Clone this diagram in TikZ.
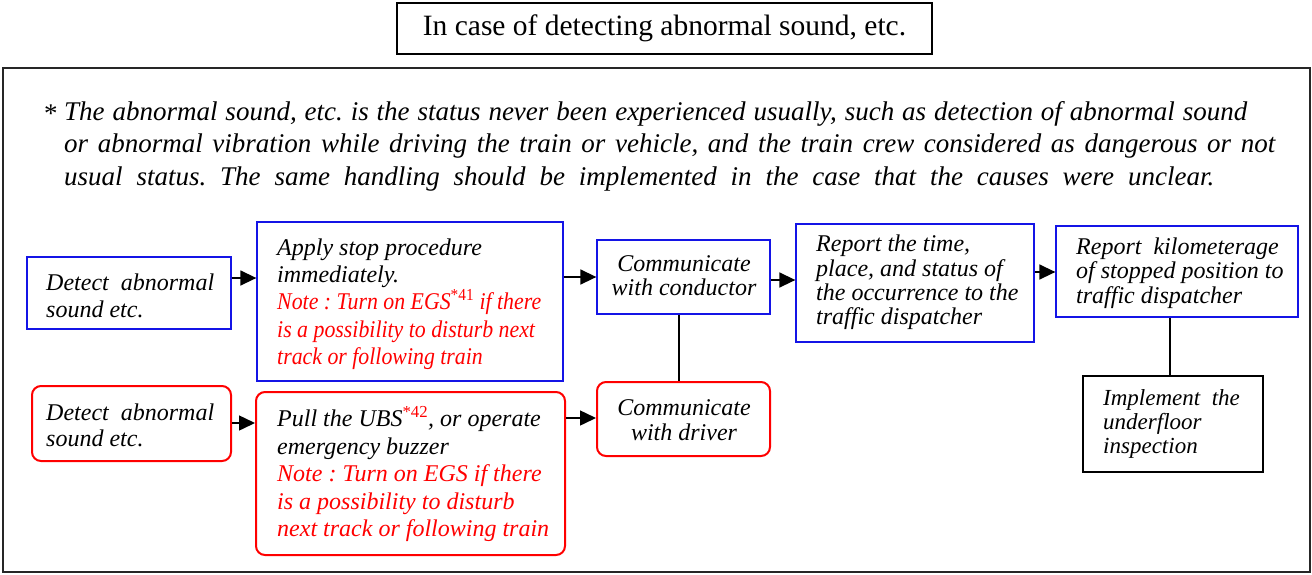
\documentclass[tikz,border=0pt]{standalone}
\usepackage{fontspec}
\setmainfont{Liberation Serif}
\usetikzlibrary{arrows.meta}
\definecolor{bluec}{RGB}{20,20,230}
\definecolor{redc}{RGB}{255,0,0}
\newcommand{\supu}[1]{\textsuperscript{\upshape #1}}
\newcommand{\narrowred}[1]{\textcolor{redc}{\scalebox{0.91}[1]{#1}}}
\frenchspacing
\begin{document}
\begin{tikzpicture}[x=1pt,y=-1pt,
  frame/.style={draw=black!85, line width=1.4pt},
  bluebox/.style={draw=bluec, line width=1.3pt, inner sep=0pt},
  redbox/.style={draw=redc, line width=2pt, rounded corners=9pt, inner sep=0pt},
  blkbox/.style={draw=black, line width=1.3pt, inner sep=0pt},
  txt/.style={inner sep=0pt, anchor=west, align=left, font=\fontsize{24}{#1}\selectfont\itshape},
  ctxt/.style={inner sep=0pt, align=center, font=\fontsize{24}{#1}\selectfont\itshape},
  arr/.style={line width=1.5pt, -{Triangle[length=16pt,width=15pt]}},
  lnk/.style={line width=1.2pt},
]
\useasboundingbox (0,0) rectangle (1312,574);

% title and frame
\node[draw=black, line width=1.8pt, minimum width=535pt, minimum height=51pt, inner sep=0pt,
      font=\fontsize{29.5}{31}\selectfont] (title) at (664.5,28.5) {In case of detecting abnormal sound, etc.};
\node[frame, minimum width=1307pt, minimum height=504pt, inner sep=0pt] (outer) at (656.5,320) {};

% note
\node[inner sep=0pt, anchor=west, font=\fontsize{27}{32.5}\selectfont] (star) at (44,114) {*};
\node[inner sep=0pt, anchor=west, align=left, font=\fontsize{27}{32.5}\selectfont\itshape] (note) at (64,146)
 {\makebox[1183pt][s]{The abnormal sound, etc. is the status never been experienced usually, such as detection of abnormal sound}\\
  \makebox[1211pt][s]{or abnormal vibration while driving the train or vehicle, and the train crew considered as dangerous or not}\\
  \makebox[1150pt][s]{usual status. The same handling should be implemented in the case that the causes were unclear.}};

% boxes (driver row)
\node[bluebox, minimum width=204pt, minimum height=72pt] (A1) at (129,293) {};
\node[bluebox, minimum width=306pt, minimum height=159pt] (A2) at (410,301.5) {};
\node[bluebox, minimum width=173pt, minimum height=74pt] (A3) at (683.5,277) {};
\node[bluebox, minimum width=238pt, minimum height=118pt] (A4) at (915,283) {};
\node[bluebox, minimum width=242pt, minimum height=91pt] (A5) at (1177,271.5) {};
\node[blkbox, minimum width=180pt, minimum height=96pt] (A6) at (1173,424) {};
% boxes (conductor row)
\node[redbox, minimum width=199pt, minimum height=75pt] (B1) at (131.5,423.5) {};
\node[redbox, minimum width=309pt, minimum height=163pt] (B2) at (410.5,473.5) {};
\node[redbox, minimum width=173pt, minimum height=74pt] (B3) at (683.5,419) {};

% texts
\node[txt=27] (A1t) at (46,296) {Detect\ \ abnormal\\sound etc.};
\node[txt=27.3] (A2t) at (277,304) {Apply stop procedure\\immediately.\\
  \narrowred{Note : Turn on EGS\supu{*41} if there}\\
  \narrowred{is a possibility to disturb next}\\
  \narrowred{track or following train}};
\node[ctxt=24] (A3t) at (684,276) {Communicate\\with conductor};
\node[txt=24.3] (A4t) at (816,282.5) {Report the time,\\place, and status of\\the occurrence to the\\traffic dispatcher};
\node[txt=24.5] (A5t) at (1076,273) {Report\ \ kilometerage\\of stopped position to\\traffic dispatcher};
\node[txt=24, font=\fontsize{23}{24}\selectfont\itshape] (A6t) at (1103,424) {Implement\ \ the\\underfloor\\inspection};
\node[txt=26] (B1t) at (46,425) {Detect\ \ abnormal\\sound etc.};
\node[txt=27.5] (B2t) at (277,474) {Pull the UBS\textcolor{redc}{\supu{*42}}, or operate\\emergency buzzer\\
  \textcolor{redc}{Note : Turn on EGS if there}\\
  \textcolor{redc}{is a possibility to disturb}\\
  \textcolor{redc}{next track or following train}};
\node[ctxt=25] (B3t) at (684,420) {Communicate\\with driver};

% connector levels
\coordinate (y1) at (0,278);
\coordinate (y2) at (0,277);
\coordinate (y3) at (0,280);
\coordinate (y4) at (0,272);
\coordinate (y5) at (0,423);
\coordinate (y6) at (0,418);
\coordinate (x1) at (679,0);
\coordinate (x2) at (1170,0);

\draw[arr] (A1.east |- y1) -- (A2.west |- y1);
\draw[arr] (A2.east |- y2) -- (A3.west |- y2);
\draw[arr] (A3.east |- y3) -- (A4.west |- y3);
\draw[arr] (A4.east |- y4) -- (A5.west |- y4);
\draw[arr] (B1.east |- y5) -- (B2.west |- y5);
\draw[arr] (B2.east |- y6) -- (B3.west |- y6);
\draw[lnk] (A3.south -| x1) -- (B3.north -| x1);
\draw[lnk] (A5.south -| x2) -- (A6.north -| x2);
\end{tikzpicture}
\end{document}
